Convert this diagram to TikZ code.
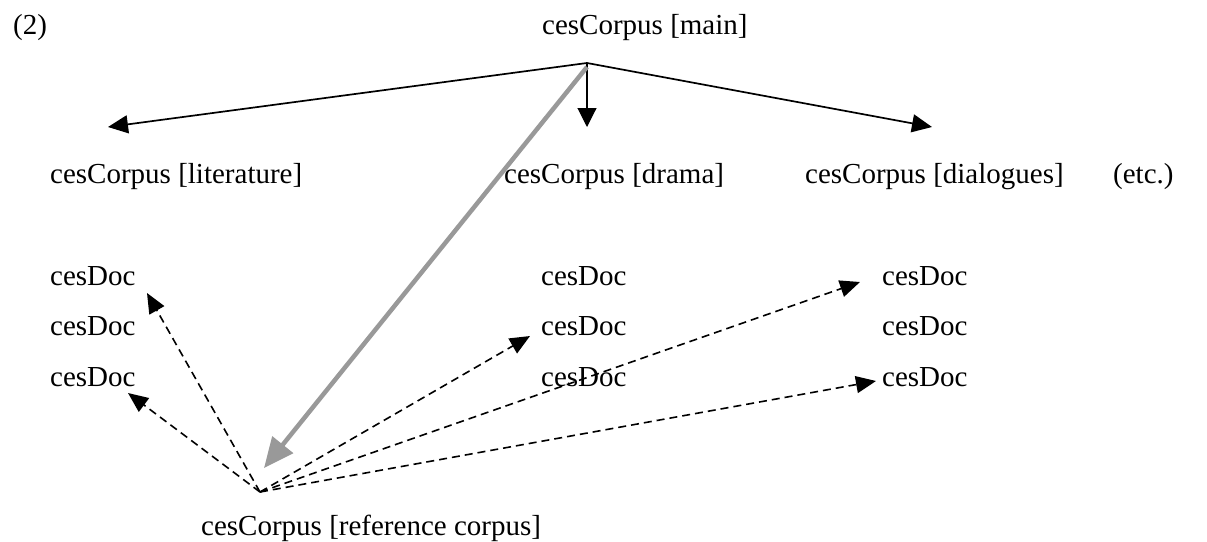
\documentclass[tikz,border=0pt]{standalone}
\usepackage{fontspec}
\setmainfont{Liberation Serif}
\usetikzlibrary{arrows.meta}
\begin{document}
\begin{tikzpicture}[x=1pt,y=-1pt,
  lbl/.style={inner sep=0pt, anchor=base west, font=\fontsize{29}{34}\selectfont},
  blk/.style={line width=1.7pt, -{Triangle[length=20pt,width=18pt]}},
  thinarr/.style={line width=1.1pt, -{Triangle[length=19pt,width=19pt]}},
  dsh/.style={line width=1.6pt, dash pattern=on 8pt off 5pt, -{Triangle[length=20pt,width=17pt]}},
  gry/.style={line width=4.5pt, draw=gray!80, -{Triangle[length=30pt,width=26pt]}}]
\useasboundingbox (0,0) rectangle (1207,541);
% labels
\node[lbl] (num) at (13,34) {(2)};
\node[lbl] (main) at (542,34) {cesCorpus [main]};
\node[lbl] (lit) at (50,183) {cesCorpus [literature]};
\node[lbl] (dra) at (504,183) {cesCorpus [drama]};
\node[lbl] (dia) at (805,183) {cesCorpus [dialogues]};
\node[lbl] (etc) at (1113,183) {(etc.)};
\node[lbl] (a1) at (50,285) {cesDoc};
\node[lbl] (a2) at (50,335) {cesDoc};
\node[lbl] (a3) at (50,386) {cesDoc};
\node[lbl] (b1) at (541,285) {cesDoc};
\node[lbl] (b2) at (541,335) {cesDoc};
\node[lbl] (b3) at (541,386) {cesDoc};
\node[lbl] (c1) at (882,285) {cesDoc};
\node[lbl] (c2) at (882,335) {cesDoc};
\node[lbl] (c3) at (882,386) {cesDoc};
\node[lbl] (refc) at (201,535) {cesCorpus [reference corpus]};
% hub points
\coordinate (hub) at (587,63);
\coordinate (ghub) at (587,67);
\coordinate (ref) at (260,492);
\coordinate (tlit) at (108,127);
\coordinate (tdra) at (587,127);
\coordinate (tdia) at (932,127);
\coordinate (tref) at (264,468);
\coordinate (ta1) at (147,293);
\coordinate (ta3) at (128,393);
\coordinate (tb2) at (530,336);
\coordinate (tc1) at (860,282);
\coordinate (tc3) at (876,381);
% arrows
\draw[blk] (hub) -- (tlit);
\draw[thinarr] (hub) -- (tdra);
\draw[blk] (hub) -- (tdia);
\draw[dsh] (ref) -- (ta1);
\draw[dsh] (ref) -- (ta3);
\draw[dsh] (ref) -- (tb2);
\draw[dsh] (ref) -- (tc1);
\draw[dsh] (ref) -- (tc3);
\draw[gry] (ghub) -- (tref);
\end{tikzpicture}
\end{document}
